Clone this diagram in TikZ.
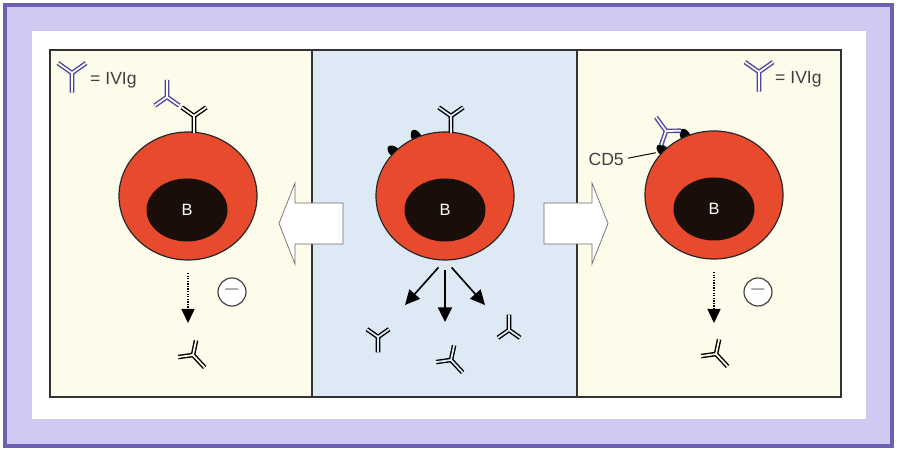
\documentclass[tikz,border=0pt]{standalone}
\usepackage{fontspec}
\setmainfont{Liberation Sans}
\usepackage{tikz}
\usetikzlibrary{arrows.meta,shapes,positioning}

\definecolor{framelilac}{RGB}{208,201,241}
\definecolor{frameedge}{RGB}{108,96,178}
\definecolor{panelcream}{RGB}{253,251,234}
\definecolor{panelblue}{RGB}{222,233,246}
\definecolor{cellred}{RGB}{231,74,45}
\definecolor{nucleusblack}{RGB}{26,14,10}
\definecolor{ivig}{RGB}{75,70,165}
\definecolor{arrowgrey}{RGB}{110,110,110}

\begin{document}
\begin{tikzpicture}[x=0.3mm,y=0.3mm,
  panel/.style={draw=black!80, line width=1.6pt},
  bcell/.style={ellipse, draw=black!85, line width=1pt, fill=cellred,
    minimum width=41.4mm, minimum height=38.4mm, inner sep=0pt, outer sep=0pt},
  nucleus/.style={ellipse, fill=nucleusblack, minimum width=24.3mm,
    minimum height=18.9mm, inner sep=0pt, text=white, font=\fontsize{14}{14}\selectfont},
  cdfive/.style={fill=black},
  secrete/.style={line width=1.4pt, -{Triangle[length=4.4mm,width=4.2mm]}, shorten <=3mm},
  blocked/.style={line width=1.3pt, dash pattern=on 1.1pt off 1.1pt,
    -{Triangle[length=4.2mm,width=3.9mm]}, shorten <=3.9mm},
  minus/.style={circle, draw=black!75, line width=1pt, fill=white, minimum size=8.4mm,
    inner sep=0pt, text=black!40, font=\fontsize{20}{20}\selectfont},
  bigarrow/.style={draw=arrowgrey, line width=0.6pt, fill=white},
  legend/.style={font=\fontsize{15}{15}\selectfont, text=black!75, anchor=west, inner sep=0pt},
  pics/antibody/.style 2 args={code={
    \draw[line width=3.9pt, #1] (145:15) -- (0,0) -- (0,-17) (35:15) -- (0,0);
    \draw[line width=1.5pt, #2] (145:15) -- (0,0) -- (0,-17) (35:15) -- (0,0);
  }}]
  \useasboundingbox (0,0) rectangle (897,451);

  % frame and panels
  \draw[frameedge, line width=3pt, fill=framelilac] (5,5) rectangle (892,446);
  \fill[white] (32,32) rectangle (866,420);
  \draw[panel, fill=panelcream] (50,54) rectangle (312,401);
  \draw[panel, fill=panelblue] (312,54) rectangle (577,401);
  \draw[panel, fill=panelcream] (577,54) rectangle (841,401);

  % hollow arrows between panels
  \draw[bigarrow] (343,207) -- (295,207) -- (295,187) -- (279,227.5)
    -- (295,268) -- (295,248) -- (343,248) -- cycle;
  \draw[bigarrow] (544,207) -- (592,207) -- (592,187) -- (608,227.5)
    -- (592,268) -- (592,248) -- (544,248) -- cycle;

  % CD5 under the membrane
  \fill[cdfive] (394.7,298.8) ellipse[x radius=8.5, y radius=5, rotate=139];
  \fill[cdfive] (416.6,313.3) ellipse[x radius=8.5, y radius=5, rotate=116];
  \fill[cdfive] (663.7,299.8) ellipse[x radius=8.5, y radius=5, rotate=139];
  \fill[cdfive] (685.6,314.3) ellipse[x radius=8.5, y radius=5, rotate=116];
  \coordinate (rcd) at (663.7,299.8);

  % Nodes
  \node[bcell] (lcell) at (188,255) {};
  \node[bcell] (mcell) at (445,255) {};
  \node[bcell] (rcell) at (714,256) {};
  \node[nucleus] (lnuc) at (187,241) {B};
  \node[nucleus] (mnuc) at (445,241) {B};
  \node[nucleus] (rnuc) at (714,242) {B};

  % surface and free antibodies
  \pic at (194,335) {antibody={black}{panelcream}};
  \pic[rotate=180] at (167,354) {antibody={ivig}{panelcream}};
  \pic at (451,335) {antibody={black}{panelblue}};
  \pic[rotate=-144] at (666,320) {antibody={ivig}{panelcream}};
  \pic[scale=0.9] at (378,114) {antibody={black}{panelblue}};
  \pic[scale=0.9, rotate=180] at (509,121) {antibody={black}{panelblue}};
  \pic[rotate=43] at (451,91) {antibody={black}{panelblue}};
  \pic[rotate=43] at (193,96) {antibody={black}{panelcream}};
  \pic[rotate=43] at (716,97) {antibody={black}{panelcream}};

  % legends
  \pic[scale=1.15] at (72,378) {antibody={ivig}{panelcream}};
  \node[legend] (lkey) at (90,371) {= IVIg};
  \pic[scale=1.15] at (759,379) {antibody={ivig}{panelcream}};
  \node[legend] (rkey) at (775,372) {= IVIg};
  \node[legend, anchor=east] (cdlab) at (624,292) {CD5};
  \draw[line width=0.8pt, shorten <=1.2mm, shorten >=2.4mm] (cdlab.east) -- (rcd);

  % secretion and its block
  \coordinate (tipl) at (405,146);
  \coordinate (tipm) at (445,129);
  \coordinate (tipr) at (485,146);
  \draw[secrete] (mcell.south) -- (tipl);
  \draw[secrete] (mcell.south) -- (tipm);
  \draw[secrete] (mcell.south) -- (tipr);
  \coordinate (ltip) at (188,128);
  \coordinate (rtip) at (714,128);
  \draw[blocked] (lcell.south) -- (ltip);
  \draw[blocked] (rcell.south) -- (rtip);
  \node[minus] (lminus) at (232,159) {–};
  \node[minus] (rminus) at (758,159) {–};
\end{tikzpicture}
\end{document}
